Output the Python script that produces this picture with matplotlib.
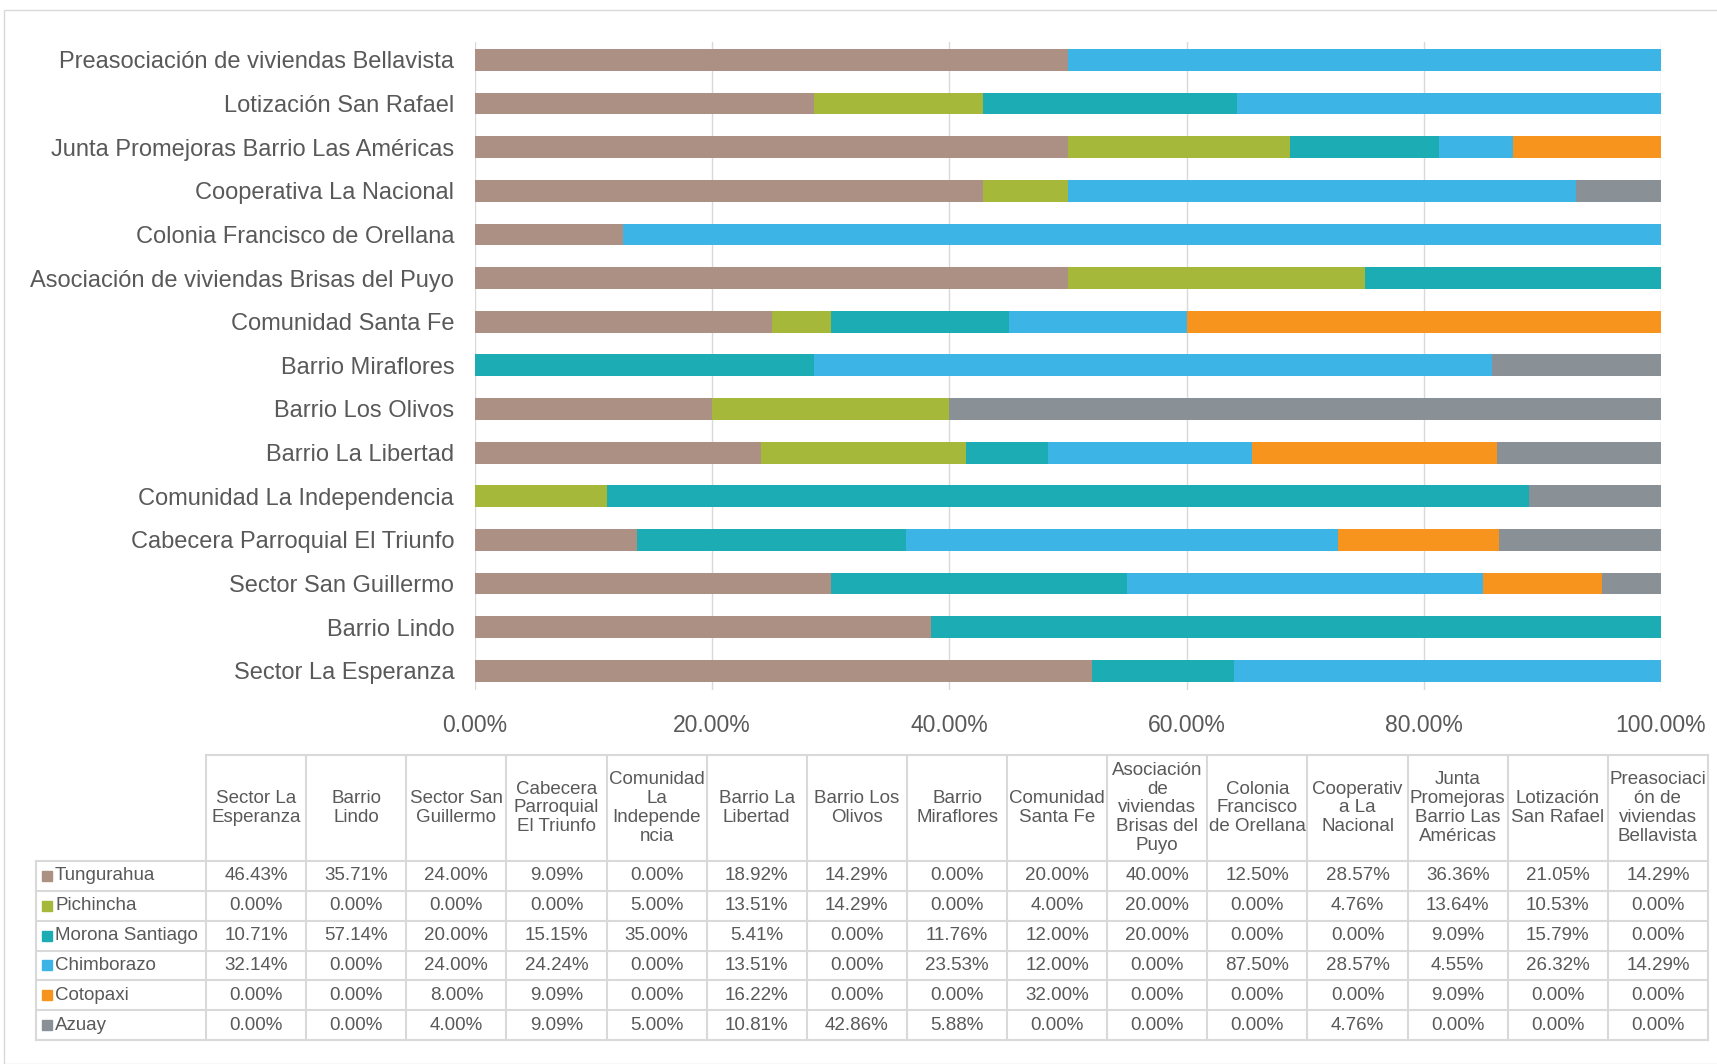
import numpy as np
import matplotlib.pyplot as plt
from matplotlib.patches import Rectangle

plt.rcParams['font.family'] = ['Liberation Sans', 'DejaVu Sans']

# data (percent, as in the table; bars are normalised to 100%)
places = ["Sector La Esperanza", "Barrio Lindo", "Sector San Guillermo",
          "Cabecera Parroquial El Triunfo", "Comunidad La Independencia",
          "Barrio La Libertad", "Barrio Los Olivos", "Barrio Miraflores",
          "Comunidad Santa Fe", "Asociación de viviendas Brisas del Puyo",
          "Colonia Francisco de Orellana", "Cooperativa La Nacional",
          "Junta Promejoras Barrio Las Américas", "Lotización San Rafael",
          "Preasociación de viviendas Bellavista"]
headers = ["Sector La\nEsperanza", "Barrio\nLindo", "Sector San\nGuillermo",
           "Cabecera\nParroquial\nEl Triunfo", "Comunidad\nLa\nIndepende\nncia",
           "Barrio La\nLibertad", "Barrio Los\nOlivos", "Barrio\nMiraflores",
           "Comunidad\nSanta Fe", "Asociación\nde\nviviendas\nBrisas del\nPuyo",
           "Colonia\nFrancisco\nde Orellana", "Cooperativ\na La\nNacional",
           "Junta\nPromejoras\nBarrio Las\nAméricas", "Lotización\nSan Rafael",
           "Preasociaci\nón de\nviviendas\nBellavista"]
series = ["Tungurahua", "Pichincha", "Morona Santiago", "Chimborazo", "Cotopaxi", "Azuay"]
tungurahua = [46.43, 35.71, 24.00, 9.09, 0.00, 18.92, 14.29, 0.00, 20.00, 40.00, 12.50, 28.57, 36.36, 21.05, 14.29]
pichincha = [0.00, 0.00, 0.00, 0.00, 5.00, 13.51, 14.29, 0.00, 4.00, 20.00, 0.00, 4.76, 13.64, 10.53, 0.00]
morona = [10.71, 57.14, 20.00, 15.15, 35.00, 5.41, 0.00, 11.76, 12.00, 20.00, 0.00, 0.00, 9.09, 15.79, 0.00]
chimborazo = [32.14, 0.00, 24.00, 24.24, 0.00, 13.51, 0.00, 23.53, 12.00, 0.00, 87.50, 28.57, 4.55, 26.32, 14.29]
cotopaxi = [0.00, 0.00, 8.00, 9.09, 0.00, 16.22, 0.00, 0.00, 32.00, 0.00, 0.00, 0.00, 9.09, 0.00, 0.00]
azuay = [0.00, 0.00, 4.00, 9.09, 5.00, 10.81, 42.86, 5.88, 0.00, 0.00, 0.00, 4.76, 0.00, 0.00, 0.00]
colors = ["#AC9084", "#A6B83A", "#1CACB4", "#3CB4E6", "#F7941E", "#8A9196"]

vals = np.array([tungurahua, pichincha, morona, chimborazo, cotopaxi, azuay])
share = vals / vals.sum(axis=0)

W, H = 1717, 1064
fig = plt.figure(figsize=(W / 100, H / 100), dpi=100)
txt = '#595959'
grid = '#D9D9D9'

# outer frame
fig.patches.append(Rectangle((4 / W, 0), 1, 1 - 10 / H, transform=fig.transFigure,
                             fill=False, ec='#D9D9D9', lw=1))

ax = fig.add_axes([475 / W, 1 - 690 / H, 1186 / W, 648 / H])
y = np.arange(len(places))
left = np.zeros(len(places))
for i, s in enumerate(series):
    ax.barh(y, share[i], left=left, height=0.5, color=colors[i], label=s)
    left += share[i]
ax.set_xlim(0, 1)
ax.set_ylim(-0.44, len(places) - 1 + 0.41)
ax.set_xticks(np.linspace(0, 1, 6))
ax.set_xticklabels([f"{v:.2f}%" for v in np.linspace(0, 100, 6)], fontsize=16.5, color=txt)
ax.set_yticks(y)
ax.set_yticklabels(places, fontsize=17, color=txt)
ax.tick_params(length=0, pad=15)
ax.tick_params(axis='x', pad=17)
ax.grid(axis='x', color=grid, lw=1)
ax.set_axisbelow(True)
for sp in ax.spines.values():
    sp.set_visible(False)

# data table below
x0, x1 = 206, 1708
lx = 36
cw = (x1 - x0) / len(places)
top, hbot = 755, 861
rh = (1040 - hbot) / len(series)
fs = 13.5

def fx(px):
    return px / W

def fy(py):
    return 1 - py / H

def hline(xa, xb, py):
    fig.add_artist(plt.Line2D([fx(xa), fx(xb)], [fy(py), fy(py)], color=grid, lw=1.5))

def vline(px, ya, yb):
    fig.add_artist(plt.Line2D([fx(px), fx(px)], [fy(ya), fy(yb)], color=grid, lw=1.5))

hline(x0, x1, top)
for r in range(len(series) + 1):
    hline(lx, x1, hbot + r * rh)
vline(lx, hbot, 1040)
for c in range(len(places) + 1):
    vline(x0 + c * cw, top, 1040)

for c, h in enumerate(headers):
    fig.text(fx(x0 + (c + 0.5) * cw), fy((top + hbot) / 2), h, ha='center', va='center',
             fontsize=fs, color=txt, linespacing=1.15)

for r, s in enumerate(series):
    cy = hbot + (r + 0.5) * rh
    fig.patches.append(Rectangle((fx(lx + 6), fy(cy + 5)), 10 / W, 10 / H,
                                 transform=fig.transFigure, color=colors[r]))
    fig.text(fx(lx + 19), fy(cy), s, ha='left', va='center', fontsize=fs, color=txt)
    for c in range(len(places)):
        fig.text(fx(x0 + (c + 0.5) * cw), fy(cy), f"{vals[r, c]:.2f}%", ha='center',
                 va='center', fontsize=fs, color=txt)

fig.savefig('out.png', dpi=100)
